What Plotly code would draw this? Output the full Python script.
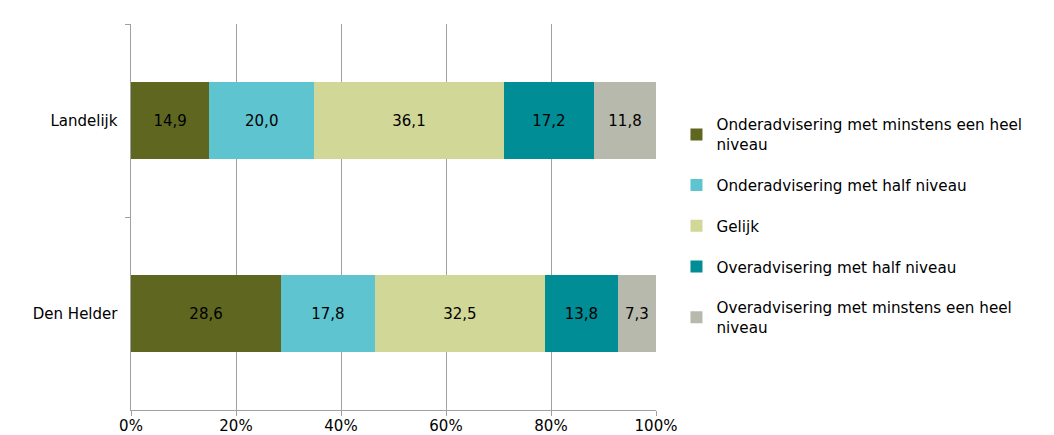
import plotly.graph_objects as go

categories = ["Landelijk", "Den Helder"]
series_names = [
    "Onderadvisering met minstens een heel<br>niveau",
    "Onderadvisering met half niveau",
    "Gelijk",
    "Overadvisering met half niveau",
    "Overadvisering met minstens een heel<br>niveau",
]
onder_heel = [14.9, 28.6]
onder_half = [20.0, 17.8]
gelijk = [36.1, 32.5]
over_half = [17.2, 13.8]
over_heel = [11.8, 7.3]
colors = ["#5E6620", "#5EC4D0", "#D0D797", "#008D96", "#B7B9AC"]
tick_vals = [0, 20, 40, 60, 80, 100]

series = [onder_heel, onder_half, gelijk, over_half, over_heel]
FONT = "DejaVu Sans"
FS = 15

fig = go.Figure()
for i, (name, vals, col) in enumerate(zip(series_names, series, colors)):
    fig.add_trace(go.Bar(
        y=categories, x=vals, name=name, orientation="h",
        marker=dict(color=col, line=dict(width=0)),
        text=[f"{v:.1f}".replace(".", ",") for v in vals],
        textposition="inside", insidetextanchor="middle",
        textfont=dict(color="#000000", size=FS, family=FONT),
        legendgroup=f"g{i}",
        hoverinfo="skip",
    ))

# page body has an 8px default margin, so the figure is offset by 8px
fig.update_layout(
    barmode="stack",
    bargap=0.6,
    width=1046, height=427,
    margin=dict(l=123, r=398, t=16, b=25, autoexpand=False),
    plot_bgcolor="white", paper_bgcolor="white",
    font=dict(family=FONT, size=FS, color="#000000"),
    showlegend=True,
    legend=dict(
        x=1.039, y=0.782, xanchor="left", yanchor="top",
        font=dict(size=15.2, family=FONT),
        tracegroupgap=18, itemwidth=30,
        bgcolor="rgba(0,0,0,0)",
    ),
    uniformtext=dict(mode="show", minsize=8),
)
fig.update_xaxes(
    range=[0, 100], tickvals=tick_vals,
    ticktext=[f"{v}%" for v in tick_vals],
    showgrid=True, gridcolor="#A0A0A0", gridwidth=1,
    showline=True, linecolor="#A0A0A0", linewidth=1,
    ticks="outside", ticklen=5, tickcolor="#A0A0A0",
    ticklabelstandoff=-3,
    zeroline=False, fixedrange=True, automargin=False,
)
fig.update_yaxes(
    autorange="reversed",
    showline=True, linecolor="#A0A0A0", linewidth=1,
    ticks="outside", ticklen=5, tickcolor="#A0A0A0",
    tickson="boundaries", showgrid=False,
    ticksuffix="  ", automargin=False,
)
fig.write_html("out.html")
